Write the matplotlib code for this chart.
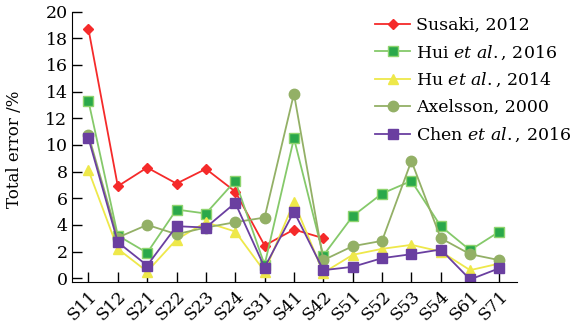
import matplotlib
matplotlib.use("Agg")
import matplotlib.pyplot as plt

plt.rcParams['font.family'] = 'DejaVu Serif'
plt.rcParams['mathtext.fontset'] = 'dejavuserif'

sites = ['S11', 'S12', 'S21', 'S22', 'S23', 'S24', 'S31', 'S41', 'S42',
         'S51', 'S52', 'S53', 'S54', 'S61', 'S71']

susaki = [18.7, 6.9, 8.3, 7.1, 8.2, 6.5, 2.45, 3.65, 3.0]
hui = [13.3, 3.2, 1.9, 5.15, 4.85, 7.3, 1.0, 10.5, 1.7, 4.65, 6.35, 7.3, 3.9, 2.1, 3.5]
hu = [8.1, 2.2, 0.5, 2.9, 4.2, 3.5, 0.5, 5.7, 0.4, 1.75, 2.2, 2.5, 2.0, 0.6, 1.1]
axelsson = [10.75, 3.05, 4.0, 3.3, 3.8, 4.2, 4.55, 13.85, 1.35, 2.4, 2.8, 8.8, 3.0, 1.8, 1.35]
chen = [10.5, 2.7, 0.95, 3.9, 3.8, 5.65, 0.8, 5.0, 0.6, 0.85, 1.5, 1.8, 2.15, -0.1, 0.75]

fig = plt.figure(figsize=(5.72, 3.25), dpi=100)
ax = fig.add_axes([0.1264, 0.131, 0.7776, 0.833])

x = list(range(len(sites)))
ax.plot(x[:len(susaki)], susaki, color='#f52a2a', marker='D', markersize=5.5,
        linewidth=1.3, label='Susaki, 2012')
ax.plot(x, hui, color='#85c96a', marker='s', markersize=7, markerfacecolor='#2aa84a',
        markeredgecolor='#8ed46e', linewidth=1.3, label='Hui $\\mathit{et\\ al.}$, 2016')
ax.plot(x, hu, color='#eee84a', marker='^', markersize=7, linewidth=1.3,
        label='Hu $\\mathit{et\\ al.}$, 2014')
ax.plot(x, axelsson, color='#93b066', marker='o', markersize=7.5, linewidth=1.3,
        label='Axelsson, 2000')
ax.plot(x, chen, color='#6a3fa0', marker='s', markersize=7.5, linewidth=1.3,
        label='Chen $\\mathit{et\\ al.}$, 2016')

ax.set_xlim(-0.55, 14.6)
ax.set_ylim(-0.32, 20)
ax.set_yticks(range(0, 21, 2))
ax.set_xticks(x)
ax.set_xticklabels(sites, rotation=45, ha='right', rotation_mode='anchor')
ax.set_ylabel('Total error /%', fontsize=12)
ax.yaxis.set_label_coords(-0.11, 0.49)
ax.tick_params(axis='both', direction='in', length=7.5, width=1, labelsize=12.5)
ax.spines['top'].set_visible(False)
ax.spines['right'].set_visible(False)

ax.legend(loc='upper right', bbox_to_anchor=(1.145, 1.02), frameon=False, fontsize=12.5,
          handlelength=2.0, handletextpad=0.35, labelspacing=0.55, borderaxespad=0.2)

fig.savefig('out.png', dpi=100)
